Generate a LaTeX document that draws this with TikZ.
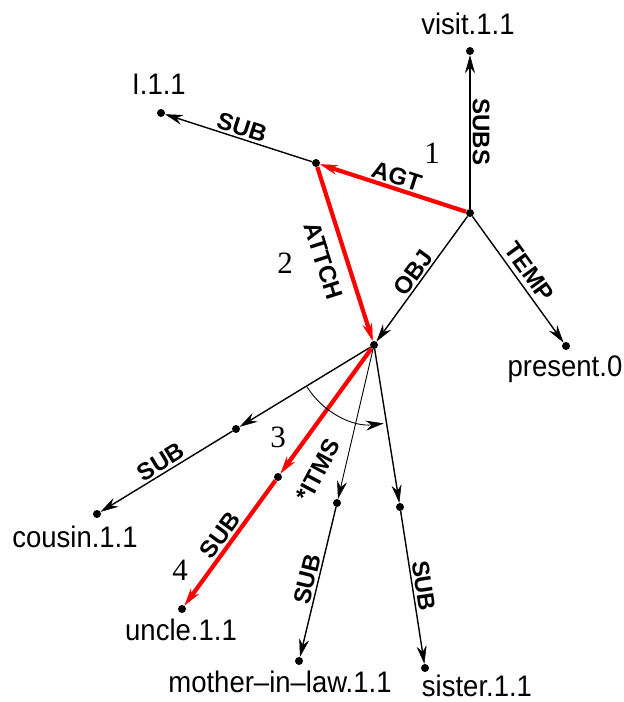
\documentclass[tikz,border=0pt]{standalone}
\usepackage{fontspec}
\setmainfont{Liberation Sans}
\newfontfamily\numfont{Liberation Serif}
\usetikzlibrary{arrows.meta,calc}
\definecolor{hl}{HTML}{FF0000}
\tikzset{
  dot/.style={circle,fill=black,inner sep=0pt,minimum size=8pt},
  lbl/.style={font=\fontsize{27.5}{30}\selectfont,inner sep=0pt,yscale=1.08},
  elbl/.style={font=\fontsize{24}{26}\selectfont\bfseries,inner sep=2pt},
  num/.style={font=\fontsize{31}{33}\selectfont\numfont,inner sep=0pt},
  ar/.style={-{Stealth[length=18pt,width=10pt,inset=6pt,line width=0.5pt]},line width=1.4pt},
  rar/.style={ar,draw=hl,line width=4.2pt},
}

\begin{document}
\begin{tikzpicture}[x=1pt,y=1pt]
  \useasboundingbox (0,0) rectangle (624,702);
  % concept nodes
  \node[dot] (c) at (470,489) {};
  \node[dot] (v) at (470,651) {};
  \node[dot] (a) at (316,539) {};
  \node[dot] (i) at (161,589) {};
  \node[dot] (p) at (566,356) {};
  \node[dot] (o) at (374,357) {};
  \node[dot] (q) at (236,273) {};
  \node[dot] (co) at (97,188) {};
  \node[dot] (r) at (278,225) {};
  \node[dot] (u) at (182,93) {};
  \node[dot] (m) at (337,199) {};
  \node[dot] (ml) at (299,41) {};
  \node[dot] (s) at (400,195) {};
  \node[dot] (si) at (425,34) {};
  % names
  \node[lbl] (vt) at (468,678) {visit.1.1};
  \node[lbl] (it) at (159,618) {I.1.1};
  \node[lbl] (pt) at (565,333) {present.0};
  \node[lbl] (cot) at (75,165) {cousin.1.1};
  \node[lbl] (ut) at (181,72) {uncle.1.1};
  \node[lbl] (mlt) at (280,20) {mother--in--law.1.1};
  \node[lbl] (sit) at (477,16) {sister.1.1};
  % path steps
  \node[num] (n1) at (432,549) {1};
  \node[num] (n2) at (285,439) {2};
  \node[num] (n3) at (278,265) {3};
  \node[num] (n4) at (180,132) {4};
  % relations
  \draw[ar] (c) -- node[elbl,rotate=-90,anchor=south]{SUBS} (v);
  \draw[rar] (c) -- node[elbl,sloped,above]{AGT} (a);
  \draw[ar] (a) -- node[elbl,sloped,above]{SUB} (i);
  \draw[rar] (a) -- node[elbl,sloped,below=10pt]{ATTCH} (o);
  \draw[ar] (c) -- node[elbl,sloped,above]{OBJ} (o);
  \draw[ar] (c) -- node[elbl,sloped,above=3pt]{TEMP} (p);
  \draw[ar] (o) -- (q);
  \draw[ar] (q) -- node[elbl,sloped,above]{SUB} (co);
  \draw[rar] (o) -- (r);
  \draw[rar] (r) -- node[elbl,sloped,above]{SUB} (u);
  \draw[ar,line width=0.9pt] (o) -- (m);
  \draw[ar] (m) -- node[elbl,sloped,above]{SUB} (ml);
  \draw[ar] (o) -- (s);
  \draw[ar] (s) -- node[elbl,sloped,above]{SUB} (si);
  \node[elbl,rotate=62] (itms) at ($(o)!0.83!(m)+(-25,6)$) {*ITMS};
  \draw[ar,line width=0.9pt] ([shift={(212:79)}]o.center) arc[start angle=212,end angle=277,radius=79];
\end{tikzpicture}
\end{document}
